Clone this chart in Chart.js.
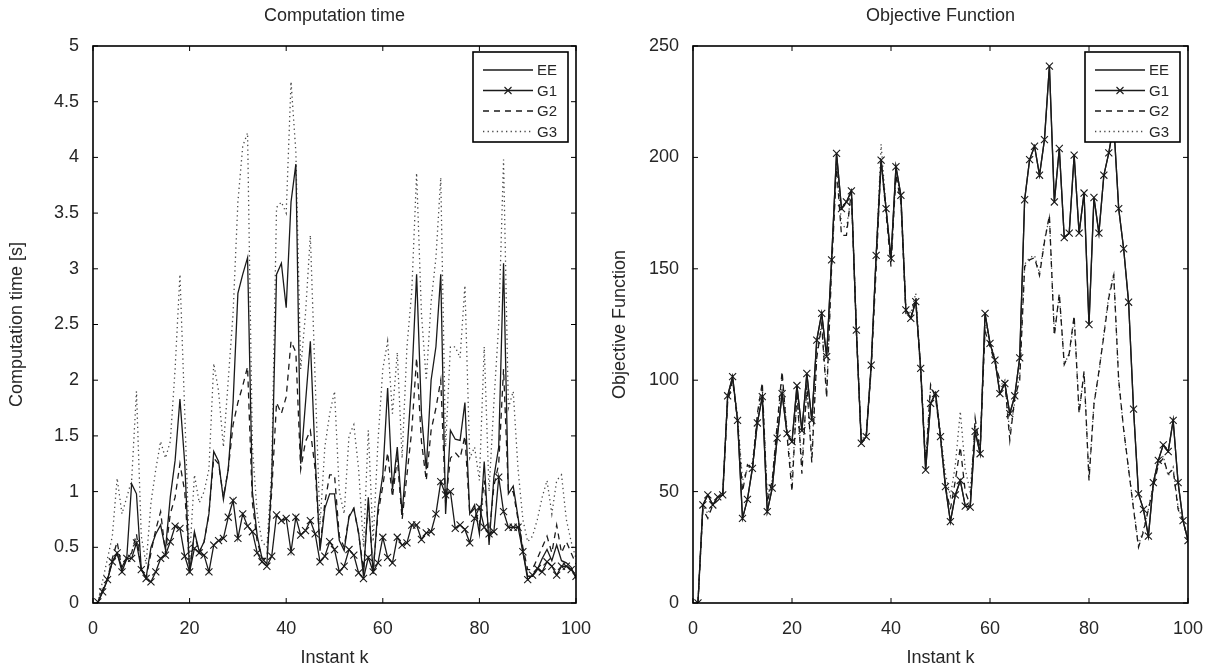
<!DOCTYPE html>
<html>
<head>
<meta charset="utf-8">
<title>Computation time / Objective Function</title>
<script src="https://cdn.jsdelivr.net/npm/chart.js@4.4.1/dist/chart.umd.min.js"></script>
<style>
  html, body { margin: 0; padding: 0; background: #fff; }
  #wrap { position: relative; width: 1217px; height: 671px; }
  #timeChart { position: absolute; left: 0; top: 0; }
  #objChart { position: absolute; left: 600px; top: 0; }
</style>
</head>
<body>
<div id="wrap">
  <canvas id="timeChart" width="600" height="671"></canvas>
  <canvas id="objChart" width="617" height="671"></canvas>
</div>
<script>
// instant index k = 1..100
const instants = Array.from({ length: 100 }, (_, i) => i + 1);
const seriesNames = ['EE', 'G1', 'G2', 'G3'];
const xTicks = [0, 20, 40, 60, 80, 100];
const timeTicks = [0, 0.5, 1, 1.5, 2, 2.5, 3, 3.5, 4, 4.5, 5];
const objTicks = [0, 50, 100, 150, 200, 250];

// computation time [s]
const timeEE = [0.00,0.10,0.21,0.37,0.44,0.32,0.41,1.07,0.98,0.30, 0.23,0.50,0.62,0.70,0.48,0.95,1.28,1.83,1.25,0.27,
  0.64,0.46,0.55,0.80,1.36,1.27,0.93,1.20,1.80,2.78, 2.95,3.10,1.00,0.60,0.40,0.35,1.10,2.95,3.05,2.65,
  3.60,3.94,1.25,1.80,2.35,1.30,0.47,0.85,0.98,0.98, 0.56,0.47,0.77,0.85,0.63,0.24,0.95,0.26,0.85,1.15,
  1.93,1.02,1.40,0.80,1.35,2.00,2.95,1.70,1.20,2.00, 2.30,2.95,0.80,1.55,1.47,1.46,1.80,0.80,0.88,0.62,
  1.27,0.52,1.13,1.40,3.05,0.98,1.05,0.77,0.46,0.24, 0.24,0.30,0.40,0.48,0.38,0.52,0.38,0.36,0.32,0.22];
const timeG1 = [0.01,0.10,0.21,0.37,0.45,0.28,0.40,0.40,0.54,0.30, 0.22,0.19,0.28,0.40,0.43,0.55,0.69,0.67,0.42,0.28,
  0.49,0.45,0.43,0.28,0.52,0.56,0.58,0.77,0.92,0.58, 0.80,0.69,0.64,0.45,0.37,0.33,0.42,0.79,0.74,0.76,
  0.46,0.77,0.61,0.65,0.74,0.62,0.37,0.42,0.55,0.48, 0.28,0.33,0.48,0.43,0.27,0.22,0.41,0.28,0.36,0.59,
  0.41,0.36,0.59,0.52,0.54,0.70,0.70,0.57,0.63,0.64, 0.80,1.09,0.97,1.00,0.67,0.70,0.66,0.54,0.76,0.86,
  0.68,0.62,0.64,1.13,0.82,0.68,0.68,0.68,0.46,0.21, 0.25,0.31,0.28,0.37,0.33,0.25,0.33,0.33,0.30,0.24];
const timeG2 = [0.00,0.12,0.22,0.40,0.55,0.30,0.40,0.45,0.62,0.30, 0.22,0.45,0.66,0.82,0.45,0.80,0.95,1.25,1.00,0.30,
  0.62,0.45,0.55,0.80,1.30,1.25,0.95,1.20,1.60,1.80, 1.95,2.12,0.90,0.55,0.40,0.40,1.00,1.80,1.70,1.85,
  2.35,2.25,1.20,1.45,1.55,1.20,0.50,0.90,1.15,1.15, 0.60,0.50,0.78,0.85,0.62,0.30,0.90,0.30,0.80,1.05,
  1.35,0.95,1.30,0.75,1.15,1.55,2.20,1.45,1.10,1.55, 1.75,2.00,0.90,1.30,1.35,1.30,1.50,0.80,0.85,0.70,
  1.10,0.60,1.05,1.25,2.10,1.00,1.00,0.75,0.50,0.30, 0.30,0.40,0.50,0.60,0.45,0.70,0.45,0.55,0.45,0.35];
const timeG3 = [0.00,0.20,0.40,0.60,1.12,0.80,0.95,1.10,1.90,0.60, 0.35,0.90,1.20,1.45,1.30,1.45,2.10,2.95,1.70,0.40,
  1.15,0.90,1.00,1.20,2.15,1.90,1.40,2.00,2.60,3.60, 4.10,4.22,1.40,0.80,0.55,0.50,1.20,3.55,3.60,3.50,
  4.68,4.05,2.10,2.60,3.30,2.00,0.70,1.40,1.70,1.90, 1.00,0.80,1.50,1.60,1.20,0.50,1.55,0.55,1.45,2.10,
  2.35,1.70,2.25,1.30,2.30,2.80,3.86,2.60,2.00,2.70, 3.10,3.82,1.40,2.30,2.30,2.20,2.85,1.30,1.40,1.10,
  2.30,1.00,1.80,2.50,3.98,1.75,1.90,1.20,0.75,0.55, 0.60,0.75,0.95,1.10,0.80,1.10,1.15,0.75,0.55,0.40];

// objective function
const objEE = [0,44,48.5,44,47.6,48.5,93,101.6,82,38, 46.5,60.4,80.8,92.6,41,51.6,74,94,76,72.4,
  97.6,77.4,103,82,118,130,110.6,154,201.8,177, 180,185,122.5,71.7,74.7,106.8,156,198.8,177,154.7,
  195.8,183,131.5,127.8,135.3,105.3,59.7,89.6,94,74.7, 52.2,36.5,48.5,55,43.5,43,77,67,130,116.5,
  109,94,98.5,85,93,110,181,199,205,192, 208,241,180,204,164,166,201,166,184,125,
  182,166,192,202,215,177,159,135,87,49, 42,30,54,64,71,68,82,54,37,28];
const objG1 = [0,44,48.5,44,47.6,48.5,93,101.6,82,38, 46.5,60.4,80.8,92.6,41,51.6,74,94,76,72.4,
  97.6,77.4,103,82,118,130,110.6,154,201.8,177, 180,185,122.5,71.7,74.7,106.8,156,198.8,177,154.7,
  195.8,183,131.5,127.8,135.3,105.3,59.7,89.6,94,74.7, 52.2,36.5,48.5,55,43.5,43,77,67,130,116.5,
  109,94,98.5,85,93,110,181,199,205,192, 208,241,180,204,164,166,201,166,184,125,
  182,166,192,202,215,177,159,135,87,49, 42,30,54,64,71,68,82,54,37,28];
const objG2 = [0,42,38,44,46,48,90,100,82,50, 62,60,85,99,45,55,80,104,75,50,
  95,58,98,63,110,125,92,150,195,165, 165,185,122,72,75,105,150,198,175,151,
  192,180,130,128,137,103,62,98,92,74, 52,42,55,70,50,44,83,68,122,115,
  108,100,99,73,92,100,151,154,155,147, 162,174,120,139,107,112,129,85,104,55,
  89,104,120,137,147,100,78,60,42,25, 32,42,52,62,65,58,60,42,37,28];
const objG3 = [0,44,40,45,47,49,92,100,84,55, 60,63,83,97,48,55,78,102,78,55,
  93,62,96,66,112,125,95,152,198,170, 168,184,124,73,76,106,155,206,177,153,
  194,182,133,130,139,105,64,96,95,76, 58,48,62,86,60,50,80,70,125,117,
  110,97,100,76,90,103,152,155,156,148, 163,173,121,138,108,111,128,86,103,56,
  90,103,121,138,148,99,78,60,43,26, 33,42,53,62,66,57,61,43,37,28];

Chart.defaults.font.family = "'Liberation Sans', Arial, sans-serif";
Chart.defaults.font.size = 18;
Chart.defaults.color = '#262626';

const ink = '#1a1a1a';
const styles = [
  { borderColor: ink, borderWidth: 1.3, borderDash: [], pointStyle: false, pointRadius: 0 },
  { borderColor: ink, borderWidth: 1.3, borderDash: [], pointStyle: 'crossRot', pointRadius: 5 },
  { borderColor: ink, borderWidth: 1.3, borderDash: [6, 5], pointStyle: false, pointRadius: 0 },
  { borderColor: '#484848', borderWidth: 1.3, borderDash: [1.3, 3.3], pointStyle: false, pointRadius: 0 }
];

function makeDatasets(seriesList) {
  return seriesList.map((vals, i) => ({
    label: seriesNames[i],
    data: instants.map((k, j) => ({ x: k, y: vals[j] })),
    borderColor: styles[i].borderColor,
    borderWidth: styles[i].borderWidth,
    borderDash: styles[i].borderDash,
    pointStyle: styles[i].pointStyle || 'circle',
    pointRadius: styles[i].pointRadius,
    pointBorderColor: ink,
    pointBorderWidth: 1.1,
    pointBackgroundColor: ink,
    fill: false,
    tension: 0
  }));
}

// box, inward ticks and boxed legend like the original figure
const matlabFrame = {
  id: 'matlabFrame',
  afterDraw(chart) {
    const { ctx, chartArea: a, scales } = chart;
    ctx.save();
    ctx.strokeStyle = '#000';
    ctx.lineWidth = 1.6;
    ctx.setLineDash([]);
    ctx.strokeRect(a.left, a.top, a.right - a.left, a.bottom - a.top);
    const tl = 5;
    ctx.lineWidth = 1;
    ctx.beginPath();
    scales.x.ticks.forEach(t => {
      const px = scales.x.getPixelForValue(t.value);
      ctx.moveTo(px, a.bottom); ctx.lineTo(px, a.bottom - tl);
      ctx.moveTo(px, a.top); ctx.lineTo(px, a.top + tl);
    });
    scales.y.ticks.forEach(t => {
      const py = scales.y.getPixelForValue(t.value);
      ctx.moveTo(a.left, py); ctx.lineTo(a.left + tl, py);
      ctx.moveTo(a.right, py); ctx.lineTo(a.right - tl, py);
    });
    ctx.stroke();

    // legend
    const bw = 95, bh = 90;
    const bx = a.right - 8 - bw, by = a.top + 6;
    ctx.fillStyle = '#fff';
    ctx.fillRect(bx, by, bw, bh);
    ctx.lineWidth = 1.6;
    ctx.strokeRect(bx, by, bw, bh);
    ctx.font = "15px 'Liberation Sans', Arial, sans-serif";
    ctx.textBaseline = 'middle';
    ctx.textAlign = 'left';
    chart.data.datasets.forEach((ds, i) => {
      const y = by + 18 + i * 20.5;
      ctx.strokeStyle = ds.borderColor;
      ctx.lineWidth = ds.borderWidth;
      ctx.setLineDash(ds.borderDash);
      ctx.beginPath();
      ctx.moveTo(bx + 10, y);
      ctx.lineTo(bx + 60, y);
      ctx.stroke();
      ctx.setLineDash([]);
      if (ds.pointRadius > 0) {
        const r = 3.5;
        ctx.strokeStyle = ink;
        ctx.lineWidth = 1.1;
        ctx.beginPath();
        ctx.moveTo(bx + 35 - r, y - r); ctx.lineTo(bx + 35 + r, y + r);
        ctx.moveTo(bx + 35 - r, y + r); ctx.lineTo(bx + 35 + r, y - r);
        ctx.stroke();
      }
      ctx.fillStyle = '#262626';
      ctx.fillText(ds.label, bx + 64, y + 1);
    });
    ctx.restore();
  }
};

function makeChart(id, title, yLabel, seriesList, yTicks, yTitlePad, rightPad) {
  return new Chart(document.getElementById(id), {
    type: 'line',
    data: { datasets: makeDatasets(seriesList) },
    options: {
      responsive: false,
      animation: false,
      devicePixelRatio: 1,
      layout: { padding: { left: 0, right: rightPad, top: 0, bottom: 0 } },
      plugins: {
        legend: { display: false },
        tooltip: { enabled: false },
        title: {
          display: true,
          text: title,
          fullSize: false,
          font: { size: 18, weight: 'normal' },
          color: '#262626',
          padding: { top: 5, bottom: 19.4 }
        }
      },
      scales: {
        x: {
          type: 'linear',
          min: xTicks[0],
          max: xTicks[xTicks.length - 1],
          afterBuildTicks: s => { s.ticks = xTicks.map(v => ({ value: v })); },
          afterFit: s => { s.height = 68; s.paddingLeft = 0; s.paddingRight = 0; },
          grid: { display: false, drawTicks: false },
          border: { display: false },
          ticks: { padding: 15, font: { size: 18 }, color: '#262626', maxRotation: 0 },
          title: { display: true, text: 'Instant k', font: { size: 18 }, color: '#262626', padding: { top: 0, bottom: 2 } }
        },
        y: {
          type: 'linear',
          min: yTicks[0],
          max: yTicks[yTicks.length - 1],
          afterBuildTicks: s => { s.ticks = yTicks.map(v => ({ value: v })); },
          afterFit: s => { s.width = 93; },
          grid: { display: false, drawTicks: false },
          border: { display: false },
          ticks: { padding: 14, font: { size: 18 }, color: '#262626', callback: v => String(v) },
          title: { display: true, text: yLabel, font: { size: 18 }, color: '#262626', padding: { top: yTitlePad, bottom: 0 } }
        }
      }
    },
    plugins: [matlabFrame]
  });
}

makeChart('timeChart', 'Computation time', 'Computation time [s]',
  [timeEE, timeG1, timeG2, timeG3], timeTicks, 6, 24);
makeChart('objChart', 'Objective Function', 'Objective Function',
  [objEE, objG1, objG2, objG3], objTicks, 9, 29);
</script>
</body>
</html>
